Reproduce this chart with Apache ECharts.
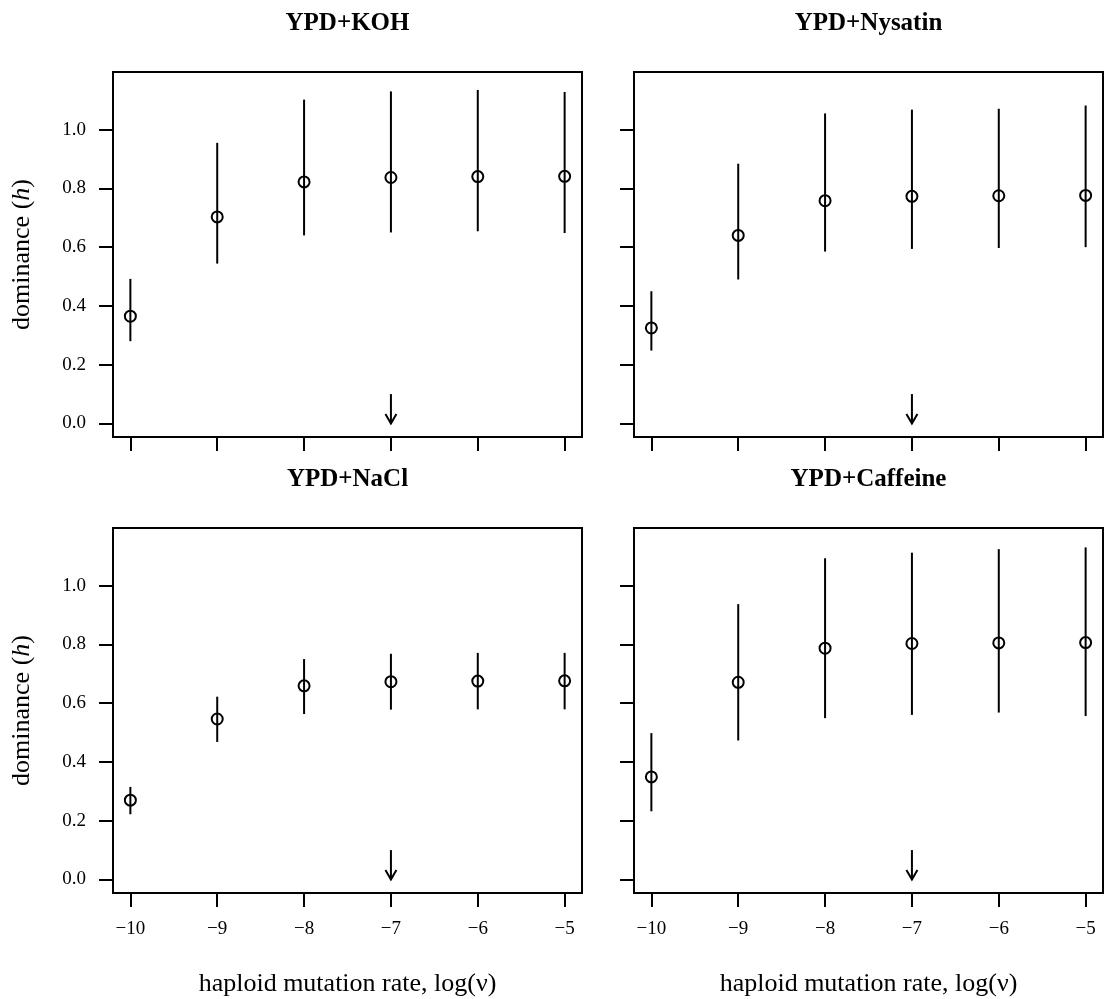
<!DOCTYPE html>
<html>
<head>
<meta charset="utf-8">
<title>dominance vs haploid mutation rate</title>
<script src="https://cdn.jsdelivr.net/npm/echarts@6.0.0/dist/echarts.min.js"></script>
<style>
  html, body { margin: 0; padding: 0; background: #fff; }
  #chart { width: 1106px; height: 999px; }
</style>
</head>
<body>
<div id="chart"></div>
<script>
// data
var logRates = [-10, -9, -8, -7, -6, -5];
var xTicks = [-10, -9, -8, -7, -6, -5];
var yTicks = [0, 0.2, 0.4, 0.6, 0.8, 1.0];
var panelTitles = ['YPD+KOH', 'YPD+Nysatin', 'YPD+NaCl', 'YPD+Caffeine'];

var kohH = [0.365, 0.703, 0.822, 0.837, 0.840, 0.841];
var kohLo = [0.280, 0.544, 0.640, 0.650, 0.654, 0.648];
var kohHi = [0.492, 0.955, 1.102, 1.130, 1.135, 1.128];

var nysatinH = [0.325, 0.640, 0.758, 0.773, 0.775, 0.776];
var nysatinLo = [0.248, 0.490, 0.585, 0.594, 0.597, 0.600];
var nysatinHi = [0.450, 0.884, 1.055, 1.068, 1.071, 1.082];

var naclH = [0.270, 0.546, 0.659, 0.673, 0.675, 0.676];
var naclLo = [0.222, 0.468, 0.563, 0.578, 0.579, 0.579];
var naclHi = [0.315, 0.622, 0.750, 0.768, 0.771, 0.771];

var caffeineH = [0.349, 0.671, 0.787, 0.803, 0.805, 0.806];
var caffeineLo = [0.232, 0.473, 0.549, 0.560, 0.568, 0.556];
var caffeineHi = [0.498, 0.937, 1.093, 1.112, 1.124, 1.130];

// arrow marking log(v) = -7
var arrowRate = -7;
var arrowTop = 0.1;
var arrowBottom = 0.0;

var FONT = '"Liberation Serif", "DejaVu Serif", serif';

var panels = [
  { h: kohH, lo: kohLo, hi: kohHi, left: 113, top: 72, xLabels: false, yLabels: true },
  { h: nysatinH, lo: nysatinLo, hi: nysatinHi, left: 634, top: 72, xLabels: false, yLabels: false },
  { h: naclH, lo: naclLo, hi: naclHi, left: 113, top: 528, xLabels: true, yLabels: true },
  { h: caffeineH, lo: caffeineLo, hi: caffeineHi, left: 634, top: 528, xLabels: true, yLabels: false }
];
var PW = 469, PH = 365;

function errorBarItem (params, api) {
  var a = api.coord([api.value(0), api.value(1)]);
  var b = api.coord([api.value(0), api.value(2)]);
  return {
    type: 'line',
    shape: { x1: a[0], y1: a[1], x2: b[0], y2: b[1] },
    style: { stroke: '#000', lineWidth: 2 }
  };
}

function arrowItem (params, api) {
  var a = api.coord([api.value(0), api.value(1)]);
  var b = api.coord([api.value(0), api.value(2)]);
  var len = 11, ang = Math.PI / 6;
  var dx = len * Math.sin(ang), dy = len * Math.cos(ang);
  return {
    type: 'group',
    children: [
      { type: 'line', shape: { x1: a[0], y1: a[1], x2: b[0], y2: b[1] }, style: { stroke: '#000', lineWidth: 2 } },
      { type: 'polyline', shape: { points: [[b[0] - dx, b[1] - dy], [b[0], b[1]], [b[0] + dx, b[1] - dy]] }, style: { stroke: '#000', fill: null, lineWidth: 2 } }
    ]
  };
}

var grids = [], xAxes = [], yAxes = [], series = [], graphics = [];

panels.forEach(function (p, i) {
  grids.push({
    left: p.left, top: p.top, width: PW, height: PH,
    show: true, borderColor: '#000', borderWidth: 2, backgroundColor: 'transparent'
  });
  xAxes.push({
    type: 'value', gridIndex: i, min: -10.2, max: -4.8, position: 'bottom',
    splitLine: { show: false },
    axisLine: { show: false, onZero: false },
    axisTick: { show: true, inside: false, length: 14, customValues: xTicks, lineStyle: { color: '#000', width: 2 } },
    axisLabel: {
      show: p.xLabels, customValues: xTicks, margin: 27,
      fontFamily: FONT, fontSize: 19, color: '#000',
      formatter: function (v) { return String(v).replace('-', '\u2212'); }
    },
    name: p.xLabels ? 'haploid mutation rate, log(\u03bd)' : '',
    nameLocation: 'middle', nameGap: 78,
    nameTextStyle: { fontFamily: FONT, fontSize: 26, color: '#000' }
  });
  yAxes.push({
    type: 'value', gridIndex: i, min: -0.046, max: 1.196, position: 'left',
    splitLine: { show: false },
    axisLine: { show: false, onZero: false },
    axisTick: { show: true, inside: false, length: 14, customValues: yTicks, lineStyle: { color: '#000', width: 2 } },
    axisLabel: {
      show: p.yLabels, customValues: yTicks, margin: 27,
      fontFamily: FONT, fontSize: 19, color: '#000',
      formatter: function (v) { return v.toFixed(1); }
    },
    name: p.yLabels ? '{n|dominance (}{i|h}{n|)}' : '',
    nameLocation: 'middle', nameGap: 78,
    nameTextStyle: {
      fontFamily: FONT, fontSize: 26, color: '#000',
      rich: {
        n: { fontFamily: FONT, fontSize: 26, color: '#000' },
        i: { fontFamily: FONT, fontSize: 26, color: '#000', fontStyle: 'italic' }
      }
    }
  });

  series.push({
    type: 'custom', xAxisIndex: i, yAxisIndex: i,
    renderItem: errorBarItem,
    encode: { x: 0, y: [1, 2] },
    data: logRates.map(function (x, k) { return [x, p.lo[k], p.hi[k]]; }),
    z: 2, silent: true
  });
  series.push({
    type: 'scatter', xAxisIndex: i, yAxisIndex: i,
    symbol: 'circle', symbolSize: 11,
    itemStyle: { color: 'rgba(0,0,0,0)', borderColor: '#000', borderWidth: 2, opacity: 1 },
    data: logRates.map(function (x, k) { return [x, p.h[k]]; }),
    z: 3, silent: true
  });
  series.push({
    type: 'custom', xAxisIndex: i, yAxisIndex: i,
    renderItem: arrowItem,
    encode: { x: 0, y: [1, 2] },
    data: [[arrowRate, arrowTop, arrowBottom]],
    z: 2, silent: true
  });

  graphics.push({
    type: 'text',
    x: p.left + PW / 2, y: p.top - 61,
    style: {
      text: panelTitles[i], fontFamily: FONT, fontSize: 25, fontWeight: 'bold',
      fill: '#000', textAlign: 'center', textVerticalAlign: 'top'
    }
  });
});

var chart = echarts.init(document.getElementById('chart'), null, { renderer: 'canvas' });
chart.setOption({
  backgroundColor: '#fff',
  animation: false,
  grid: grids,
  xAxis: xAxes,
  yAxis: yAxes,
  series: series,
  graphic: graphics
});
</script>
</body>
</html>
